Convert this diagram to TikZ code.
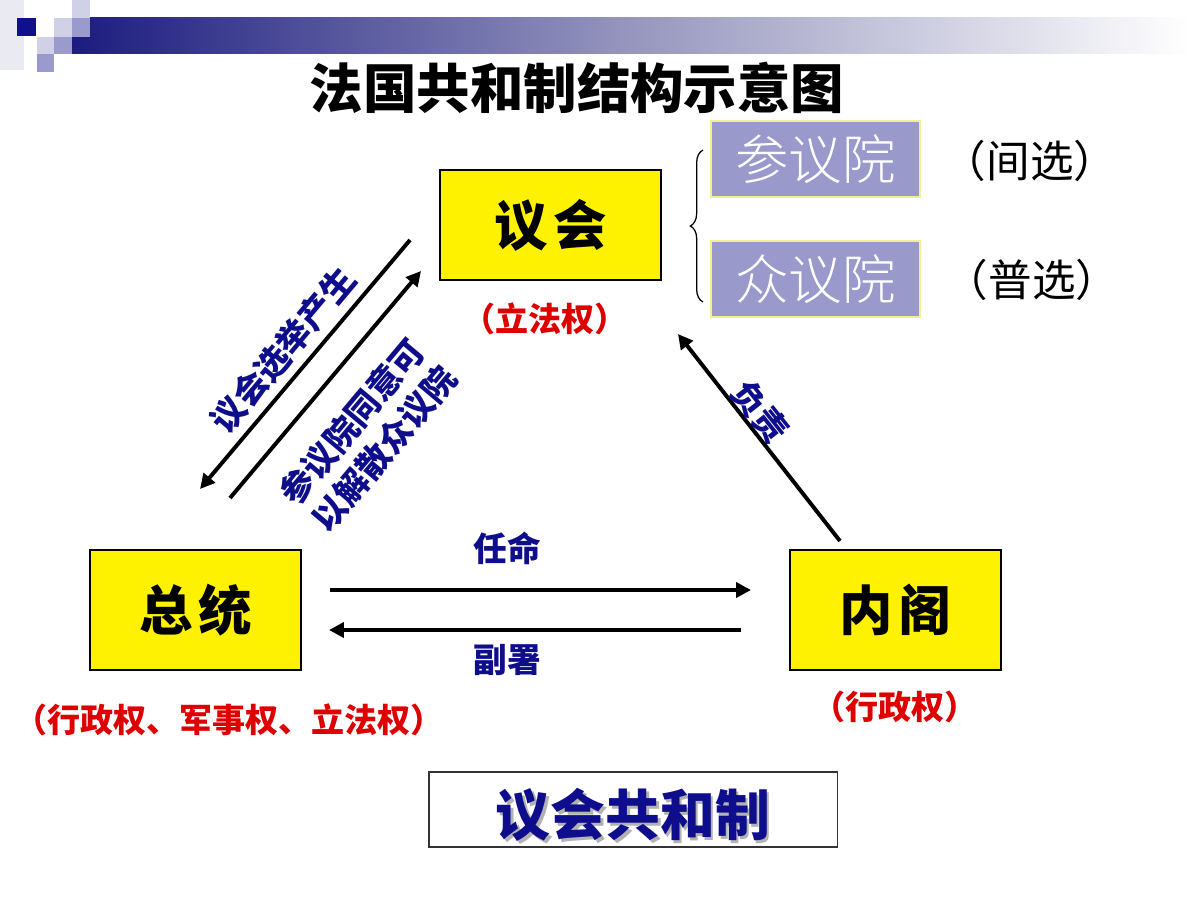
\documentclass[tikz,border=0pt]{standalone}
\usepackage{fontspec}
\newfontfamily\cjk{Noto Sans CJK SC}
\newfontfamily\cjkblack{Noto Sans CJK SC Black}
\newfontfamily\cjklight{Noto Sans CJK SC Light}
\usetikzlibrary{arrows.meta,decorations.pathreplacing}
\definecolor{navytxt}{RGB}{14,14,140}
\definecolor{redtxt}{RGB}{222,0,0}
\definecolor{lav}{RGB}{153,153,204}
\definecolor{lavborder}{RGB}{240,240,150}
\definecolor{barnavy}{RGB}{28,28,128}
\definecolor{barmid}{RGB}{150,150,190}
\definecolor{sqdark}{RGB}{16,16,138}
\definecolor{sqmed}{RGB}{154,154,204}
\definecolor{sqpale}{RGB}{208,208,230}
\definecolor{sqstrip}{RGB}{234,234,242}
\pgfdeclarehorizontalshading{barshade}{100bp}{color(0bp)=(barnavy); color(25bp)=(barnavy); color(50bp)=(barmid); color(75bp)=(white); color(100bp)=(white)}
\tikzset{
  powerbox/.style={draw=black, line width=0.8pt, fill=yellow, minimum width=#1, inner sep=0pt,
     font=\cjkblack\fontsize{38pt}{40pt}\selectfont},
  housebox/.style={draw=lavborder, line width=0.8pt, fill=lav, text=white, minimum width=5.225cm,
     minimum height=1.9cm, inner sep=0pt, font=\cjklight\fontsize{38pt}{40pt}\selectfont},
  redlabel/.style={text=redtxt, font=\cjk\bfseries\fontsize{23.5pt}{25pt}\selectfont},
  bluelabel/.style={text=navytxt, font=\cjk\bfseries\fontsize{24pt}{30pt}\selectfont},
  elect/.style={font=\cjk\fontsize{31pt}{33pt}\selectfont},
  arr/.style={line width=2.8pt, -{Triangle[length=10.5pt,width=10.5pt]}},
}
\begin{document}
\begin{tikzpicture}[x=0.025cm,y=-0.025cm]
\useasboundingbox (0,0) rectangle (1200,900);
% header decoration
\fill[sqstrip] (0,0) rectangle (24,70);
\shade[shading=barshade] (72,18) rectangle (1190,54);
\fill[sqpale] (72,0) rectangle (90,18);
\fill[sqmed] (72,18) rectangle (90,37);
\fill[sqpale] (54,18) rectangle (72,37);
\fill[sqmed] (54,37) rectangle (72,54);
\fill[sqpale] (37,37) rectangle (54,54);
\fill[sqmed] (37,54) rectangle (54,72);
\fill[sqdark] (17,18) rectangle (36,36);
% title
\node[font=\cjk\bfseries\fontsize{38pt}{40pt}\selectfont] (title) at (577,88) {法国共和制结构示意图};
% main boxes
\node[powerbox=5.525cm, minimum height=2.75cm] (yh) at (550.5,225) {议\hspace{4pt}会};
\node[powerbox=5.275cm, minimum height=3cm] (zt) at (195.5,610) {总\hspace{4pt}统};
\node[powerbox=5.275cm, minimum height=3cm] (ng) at (895.5,610) {内\hspace{4pt}阁};
% houses
\node[housebox] (cyy) at (815.5,159) {参议院};
\node[housebox] (zyy) at (815.5,279) {众议院};
\node[elect] (jx) at (1030,161) {（间选）};
\node[elect] (px) at (1032,280) {（普选）};
\coordinate (brb) at (703,302);
\coordinate (brt) at (703,150);
\draw[decorate, decoration={brace, amplitude=9pt}, line width=0.9pt] (brb) -- (brt);
% power labels
\node[redlabel] (yhl) at (545,319) {（立法权）};
\node[redlabel] (ztl) at (229,720) {（行政权、军事权、立法权）};
\node[redlabel] (ngl) at (895,707) {（行政权）};
% arrows left
\coordinate (a1s) at (410,240);
\coordinate (a1e) at (200,489);
\coordinate (a2s) at (230,498);
\coordinate (a2e) at (421,271);
\draw[arr] (a1s) -- (a1e);
\draw[arr] (a2s) -- (a2e);
\node[bluelabel, rotate=50] (l1) at (283,350) {议会选举产生};
\node[bluelabel, rotate=50, align=center] (l2) at (368,435) {参议院同意可\\以解散众议院};
% arrow right
\coordinate (a3s) at (840,541);
\coordinate (a3e) at (678,334);
\draw[arr] (a3s) -- (a3e);
\node[bluelabel, rotate=-51.5] (l3) at (760,412) {负责};
% horizontal arrows
\coordinate (a4s) at (330,590);
\coordinate (a4e) at (751,590);
\coordinate (a5s) at (741,630);
\coordinate (a5e) at (329,630);
\draw[arr] (a4s) -- (a4e);
\draw[arr] (a5s) -- (a5e);
\node[bluelabel] (rm) at (507,548) {任命};
\node[bluelabel] (fs) at (507,660) {副署};
% bottom box
\node[draw=black!80, line width=0.8pt, fill=white, minimum width=10.2cm, minimum height=1.875cm] (bot) at (633,809.5) {};
\node[text=black!30, font=\cjk\bfseries\fontsize{39pt}{41pt}\selectfont] at (635.5,817.5) {议会共和制};
\node[text=navytxt, font=\cjk\bfseries\fontsize{39pt}{41pt}\selectfont] (botl) at (633,815) {议会共和制};
\end{tikzpicture}
\end{document}
